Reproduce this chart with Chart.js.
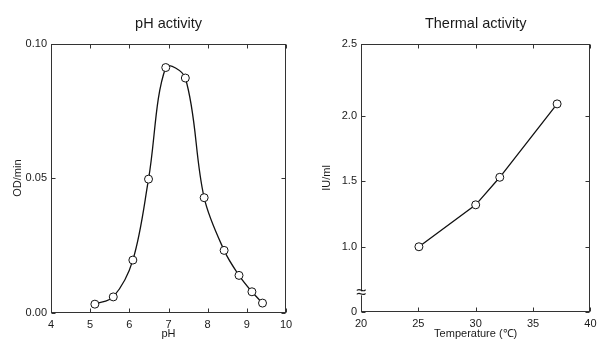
<!DOCTYPE html>
<html>
<head>
<meta charset="utf-8">
<script src="https://cdn.jsdelivr.net/npm/chart.js@4/dist/chart.umd.min.js"></script>
<style>
  html, body { margin: 0; padding: 0; background: #fff; }
  #wrap { position: relative; width: 602px; height: 349px; overflow: hidden; }
  canvas { position: absolute; top: 0; }
  #c1 { left: 0; }
  #c2 { left: 300px; }
</style>
</head>
<body>
<div id="wrap">
  <canvas id="c1" width="300" height="349"></canvas>
  <canvas id="c2" width="302" height="349"></canvas>
</div>
<script>
// ---- pH activity ----
const phValues      = [5.12, 5.59, 6.09, 6.49, 6.93, 7.43, 7.91, 8.42, 8.80, 9.13, 9.40];
const phActivity    = [0.0031, 0.0058, 0.0195, 0.0496, 0.0911, 0.0872, 0.0427, 0.0231, 0.0138, 0.0077, 0.0035];
const phTicksX      = [4, 5, 6, 7, 8, 9, 10];
const phTickLabelsX = ['4', '5', '6', '7', '8', '9', '10'];
const phTicksY      = [0, 0.05, 0.10];
const phTickLabelsY = ['0.00', '0.05', '0.10'];

// ---- Thermal activity ----
const tempValues          = [25.05, 30.0, 32.1, 37.1];
const thermalActivity     = [1.0, 1.32, 1.53, 2.09];
const tempTicksX          = [20, 25, 30, 35, 40];
const tempTickLabelsX     = ['20', '25', '30', '35', '40'];
const thermalTicksY       = [0.5, 1.0, 1.5, 2.0, 2.55];   // axis has a break: bottom tick stands for 0
const thermalTickLabelsY  = ['0', '1.0', '1.5', '2.0', '2.5'];
const thermalBreakValue   = 0.645;

const FONT = "'Liberation Sans', Arial, Helvetica, sans-serif";
const INK = '#1a1a1a';

const frameTicks = {
  id: 'frameTicks',
  beforeDatasetsDraw(chart, args, opts) {
    const {ctx, chartArea: a, scales: {x, y}} = chart;
    const L = Math.round(a.left) + 0.5, R = Math.round(a.right) - 0.5;
    const T = Math.round(a.top) + 0.5, B = Math.round(a.bottom) - 0.5;
    ctx.save();
    ctx.strokeStyle = '#333';
    ctx.lineWidth = 1;
    ctx.strokeRect(L, T, R - L, B - T);
    const len = 4;
    ctx.beginPath();
    x.ticks.forEach(t => {
      const px = Math.round(x.getPixelForValue(t.value)) + 0.5;
      ctx.moveTo(px, B); ctx.lineTo(px, B - len);
      ctx.moveTo(px, T); ctx.lineTo(px, T + len);
    });
    y.ticks.forEach(t => {
      const py = Math.round(y.getPixelForValue(t.value)) + 0.5;
      ctx.moveTo(L, py); ctx.lineTo(L + len, py);
      ctx.moveTo(R, py); ctx.lineTo(R - len, py);
    });
    ctx.stroke();
    if (opts && opts.breakValue !== undefined) {
      const py = y.getPixelForValue(opts.breakValue);
      ctx.fillStyle = '#fff';
      ctx.fillRect(L - 5, py - 2, 10, 4);
      ctx.fillStyle = INK;
      ctx.font = '18px ' + FONT;
      ctx.textAlign = 'center';
      ctx.textBaseline = 'middle';
      ctx.fillText('\u2248', L, py);
    }
    ctx.restore();
  }
};

function makeChart(id, cfg) {
  const pts = cfg.xs.map((v, i) => ({x: v, y: cfg.ys[i]}));
  return new Chart(document.getElementById(id), {
    type: 'line',
    data: {
      datasets: [{
        data: pts,
        borderColor: '#111',
        borderWidth: 1.3,
        tension: cfg.tension,
        pointRadius: 4,
        pointBackgroundColor: '#fff',
        pointBorderColor: '#111',
        pointBorderWidth: 1,
        clip: false
      }]
    },
    options: {
      responsive: false,
      animation: false,
      events: [],
      layout: { padding: { left: 0, right: cfg.padRight, top: 0, bottom: 0 } },
      plugins: {
        legend: { display: false },
        tooltip: { enabled: false },
        title: {
          display: true,
          text: cfg.title,
          fullSize: false,
          color: INK,
          font: { family: FONT, size: 14.5, weight: 'normal' },
          padding: { top: 15, bottom: 11.2 }
        },
        frameTicks: { breakValue: cfg.breakValue }
      },
      scales: {
        x: {
          type: 'linear',
          min: cfg.xTicks[0],
          max: cfg.xTicks[cfg.xTicks.length - 1],
          afterBuildTicks: s => { s.ticks = cfg.xTicks.map(v => ({value: v})); },
          afterFit: s => { s.height = cfg.xAxisHeight; },
          grid: { display: false, drawTicks: false },
          border: { display: false },
          ticks: {
            autoSkip: false, maxRotation: 0, padding: 5.5, color: INK,
            font: { family: FONT, size: 11 },
            callback: (v, i) => cfg.xLabels[i]
          },
          title: {
            display: true, text: cfg.xTitle, color: INK,
            font: { family: FONT, size: 11 },
            padding: { top: 0, bottom: 8 }
          }
        },
        y: {
          type: 'linear',
          min: cfg.yTicks[0],
          max: cfg.yTicks[cfg.yTicks.length - 1],
          afterBuildTicks: s => { s.ticks = cfg.yTicks.map(v => ({value: v})); },
          afterFit: s => { s.width = cfg.yAxisWidth; },
          grid: { display: false, drawTicks: false },
          border: { display: false },
          ticks: {
            autoSkip: false, padding: 4, color: INK,
            font: { family: FONT, size: 11 },
            callback: (v, i) => cfg.yLabels[i]
          },
          title: {
            display: true, text: cfg.yTitle, color: INK,
            font: { family: FONT, size: 11 },
            padding: { top: cfg.yTitlePad, bottom: 0 }
          }
        }
      }
    },
    plugins: [frameTicks]
  });
}

makeChart('c1', {
  xs: phValues, ys: phActivity, tension: 0.35,
  title: 'pH activity', xTitle: 'pH', yTitle: 'OD/min',
  xTicks: phTicksX, xLabels: phTickLabelsX,
  yTicks: phTicksY, yLabels: phTickLabelsY,
  padRight: 14, yAxisWidth: 51, xAxisHeight: 36.5, yTitlePad: 11
});

makeChart('c2', {
  xs: tempValues, ys: thermalActivity, tension: 0,
  title: 'Thermal activity', xTitle: 'Temperature (\u2103)', yTitle: 'IU/ml',
  xTicks: tempTicksX, xLabels: tempTickLabelsX,
  yTicks: thermalTicksY, yLabels: thermalTickLabelsY,
  padRight: 7, yAxisWidth: 61, xAxisHeight: 36.7, yTitlePad: 20,
  breakValue: thermalBreakValue
});
</script>
</body>
</html>
